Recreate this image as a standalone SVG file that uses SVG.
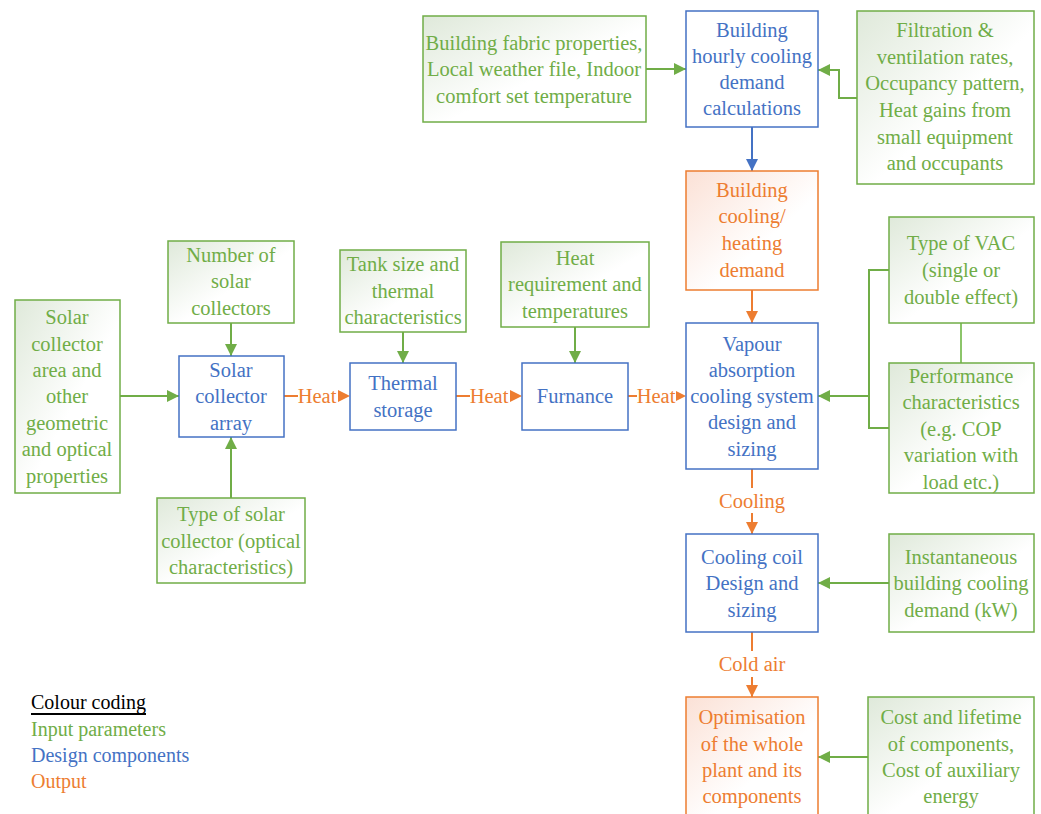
<svg xmlns="http://www.w3.org/2000/svg" width="1041" height="814" viewBox="0 0 1041 814">
<defs>
<linearGradient id="gg" x1="0" y1="0" x2="1" y2="1"><stop offset="0" stop-color="#dfe9da"/><stop offset="0.55" stop-color="#ffffff"/></linearGradient>
<linearGradient id="og" x1="0" y1="0" x2="1" y2="1"><stop offset="0" stop-color="#fbe1d6"/><stop offset="0.6" stop-color="#ffffff"/></linearGradient>
<marker id="ag" viewBox="0 0 10 10" refX="10" refY="5" markerWidth="12" markerHeight="12" markerUnits="userSpaceOnUse" orient="auto"><path d="M0,0 L10,5 L0,10 Z" fill="#70AD47"/></marker>
<marker id="ab" viewBox="0 0 10 10" refX="10" refY="5" markerWidth="12" markerHeight="12" markerUnits="userSpaceOnUse" orient="auto"><path d="M0,0 L10,5 L0,10 Z" fill="#4472C4"/></marker>
<marker id="ao" viewBox="0 0 10 10" refX="10" refY="5" markerWidth="12" markerHeight="12" markerUnits="userSpaceOnUse" orient="auto"><path d="M0,0 L10,5 L0,10 Z" fill="#ED7D31"/></marker>
</defs>
<style>
text{font-family:'Liberation Serif','Times New Roman',serif;font-size:20.5px;text-anchor:middle;dominant-baseline:central}
.gi rect{fill:url(#gg);stroke:#70AD47;stroke-width:1.5}
.gi text,.tg{fill:#70AD47}
.bd rect{fill:#ffffff;stroke:#4472C4;stroke-width:1.5}
.bd text,.tb{fill:#4472C4}
.ou rect{fill:url(#og);stroke:#ED7D31;stroke-width:1.5}
.ou text,.to{fill:#ED7D31}
.cg{stroke:#70AD47;stroke-width:2;fill:none}
.cb{stroke:#4472C4;stroke-width:2;fill:none}
.co{stroke:#ED7D31;stroke-width:2;fill:none}
.lg{text-anchor:start;font-size:20px}
</style>
<rect width="1041" height="814" fill="#ffffff"/>

<g id="connectors">
<path class="cg" d="M646,69 H686" marker-end="url(#ag)"/>
<path class="cg" d="M857,98 H839 V70 H818" marker-end="url(#ag)"/>
<path class="cb" d="M752,127 V171" marker-end="url(#ab)"/>
<path class="co" d="M752,290 V323" marker-end="url(#ao)"/>
<path class="cg" d="M961,323 V363" style="stroke:#8cc56a"/>
<path class="cg" d="M889,270 H869 V428 H889"/>
<path class="cg" d="M869,396 H818" marker-end="url(#ag)"/>
<path class="cg" d="M575,327 V363" marker-end="url(#ag)"/>
<path class="cg" d="M403,332 V363" marker-end="url(#ag)"/>
<path class="cg" d="M231,323 V356" marker-end="url(#ag)"/>
<path class="cg" d="M120,396 H179" marker-end="url(#ag)"/>
<path class="cg" d="M231,498 V437" marker-end="url(#ag)"/>
<path class="co" d="M284,396 H298"/>
<text class="to" x="317" y="396">Heat</text>
<path d="M338,390 L350,396 L338,402 Z" fill="#ED7D31"/>
<path class="co" d="M456,396 H470"/>
<text class="to" x="489" y="396">Heat</text>
<path d="M510,390 L522,396 L510,402 Z" fill="#ED7D31"/>
<path class="co" d="M628,396 H637"/>
<text class="to" x="656" y="396">Heat</text>
<path d="M676,391 L686,396 L676,401 Z" fill="#ED7D31"/>
<path class="co" d="M752,469 V488"/>
<text class="to" x="752" y="501">Cooling</text>
<path class="co" d="M752,513 V534" marker-end="url(#ao)"/>
<path class="cg" d="M889,583 H818" marker-end="url(#ag)"/>
<path class="co" d="M752,632 V651"/>
<text class="to" x="752" y="664">Cold air</text>
<path class="co" d="M752,677 V697" marker-end="url(#ao)"/>
<path class="cg" d="M868,757 H818" marker-end="url(#ag)"/>
</g>

<g id="n-fabric" class="gi"><rect x="423" y="16" width="223" height="106"/>
<text x="534" y="43">Building fabric properties,</text><text x="534" y="69">Local weather file, Indoor</text><text x="534" y="96">comfort set temperature</text></g>

<g id="n-hourly" class="bd"><rect x="686" y="11" width="132" height="116"/>
<text x="752" y="30">Building</text><text x="752" y="56">hourly cooling</text><text x="752" y="82">demand</text><text x="752" y="108">calculations</text></g>

<g id="n-filtration" class="gi"><rect x="857" y="11" width="177" height="173"/>
<text x="945" y="30">Filtration &amp;</text><text x="945" y="57">ventilation rates,</text><text x="945" y="83">Occupancy pattern,</text><text x="945" y="110">Heat gains from</text><text x="945" y="137">small equipment</text><text x="945" y="163">and occupants</text></g>

<g id="n-demand" class="ou"><rect x="686" y="171" width="132" height="119"/>
<text x="752" y="190">Building</text><text x="752" y="216">cooling/</text><text x="752" y="243">heating</text><text x="752" y="270">demand</text></g>

<g id="n-vac" class="gi"><rect x="889" y="217" width="145" height="106"/>
<text x="961" y="243">Type of VAC</text><text x="961" y="270">(single or</text><text x="961" y="297">double effect)</text></g>

<g id="n-perf" class="gi"><rect x="889" y="363" width="145" height="130"/>
<text x="961" y="376">Performance</text><text x="961" y="402">characteristics</text><text x="961" y="429">(e.g. COP</text><text x="961" y="455">variation with</text><text x="961" y="482">load etc.)</text></g>

<g id="n-vapour" class="bd"><rect x="686" y="323" width="132" height="146"/>
<text x="752" y="344">Vapour</text><text x="752" y="370">absorption</text><text x="752" y="396">cooling system</text><text x="752" y="422">design and</text><text x="752" y="449">sizing</text></g>

<g id="n-heatreq" class="gi"><rect x="501" y="242" width="148" height="85"/>
<text x="575" y="258">Heat</text><text x="575" y="284">requirement and</text><text x="575" y="311">temperatures</text></g>

<g id="n-furnance" class="bd"><rect x="522" y="363" width="106" height="67"/>
<text x="575" y="396">Furnance</text></g>

<g id="n-tank" class="gi"><rect x="340" y="250" width="126" height="82"/>
<text x="403" y="264">Tank size and</text><text x="403" y="291">thermal</text><text x="403" y="317">characteristics</text></g>

<g id="n-storage" class="bd"><rect x="350" y="363" width="106" height="67"/>
<text x="403" y="383">Thermal</text><text x="403" y="410">storage</text></g>

<g id="n-number" class="gi"><rect x="168" y="241" width="126" height="82"/>
<text x="231" y="255">Number of</text><text x="231" y="281">solar</text><text x="231" y="308">collectors</text></g>

<g id="n-array" class="bd"><rect x="179" y="356" width="105" height="81"/>
<text x="231" y="370">Solar</text><text x="231" y="396">collector</text><text x="231" y="423">array</text></g>

<g id="n-area" class="gi"><rect x="15" y="300" width="105" height="193"/>
<text x="67" y="317">Solar</text><text x="67" y="344">collector</text><text x="67" y="370">area and</text><text x="67" y="396">other</text><text x="67" y="423">geometric</text><text x="67" y="449">and optical</text><text x="67" y="476">properties</text></g>

<g id="n-type" class="gi"><rect x="157" y="498" width="148" height="85"/>
<text x="231" y="514">Type of solar</text><text x="231" y="541">collector (optical</text><text x="231" y="567">characteristics)</text></g>

<g id="n-coil" class="bd"><rect x="686" y="534" width="132" height="98"/>
<text x="752" y="557">Cooling coil</text><text x="752" y="583">Design and</text><text x="752" y="610">sizing</text></g>

<g id="n-inst" class="gi"><rect x="889" y="534" width="145" height="98"/>
<text x="961" y="557">Instantaneous</text><text x="961" y="583">building cooling</text><text x="961" y="610">demand (kW)</text></g>

<g id="n-optim" class="ou"><rect x="686" y="697" width="132" height="120"/>
<text x="752" y="717">Optimisation</text><text x="752" y="744">of the whole</text><text x="752" y="770">plant and its</text><text x="752" y="796">components</text></g>

<g id="n-cost" class="gi"><rect x="868" y="697" width="166" height="120"/>
<text x="951" y="717">Cost and lifetime</text><text x="951" y="744">of components,</text><text x="951" y="770">Cost of auxiliary</text><text x="951" y="796">energy</text></g>

<g id="legend">
<text class="lg" x="31" y="702" fill="#000000" text-decoration="underline">Colour coding</text>
<text class="lg tg" x="31" y="729">Input parameters</text>
<text class="lg tb" x="31" y="755">Design components</text>
<text class="lg to" x="31" y="781">Output</text>
</g>
</svg>
